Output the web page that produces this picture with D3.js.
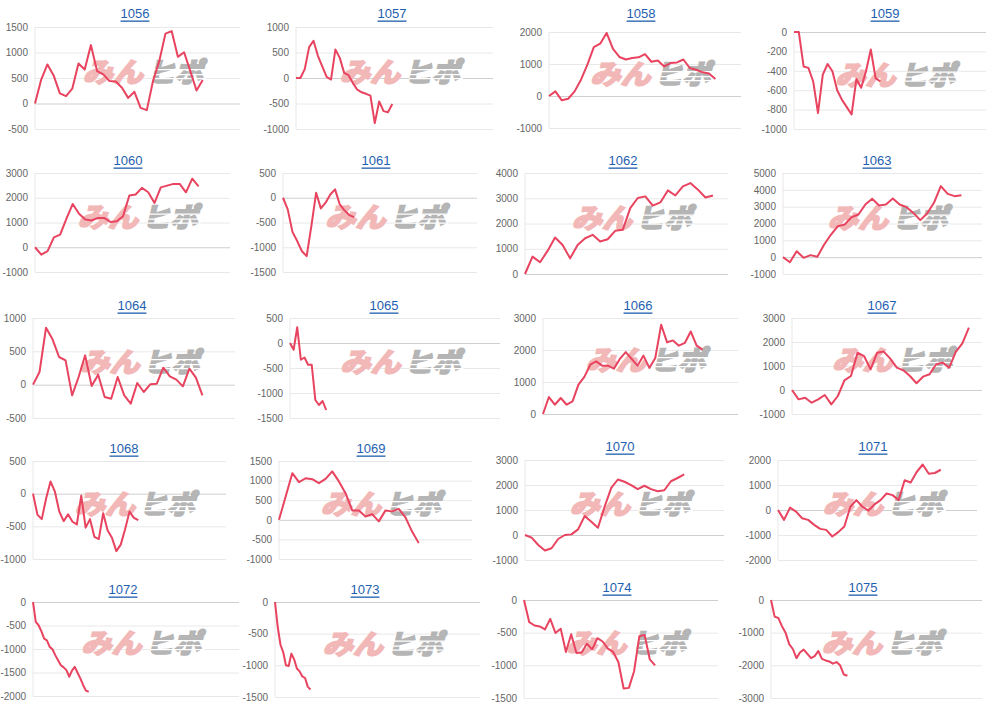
<!DOCTYPE html>
<html>
<head>
<meta charset="utf-8">
<script src="https://cdn.jsdelivr.net/npm/d3@7"></script>
<style>
  body { margin: 0; background: #fff; }
  svg { display: block; }
</style>
</head>
<body>
<svg id="chart" width="1000" height="709"></svg>
<script>
// machine numbers (panel titles)
var names = ["1056","1057","1058","1059","1060","1061","1062","1063","1064","1065",
             "1066","1067","1068","1069","1070","1071","1072","1073","1074","1075"]

// cumulative difference per game
var v1056 = [0,470,765,550,200,145,290,785,665,1145,635,570,440,430,310,110,230,-85,-130,440,830,1370,1420,915,1005,635,255,460]
var v1057 = [0,0,175,605,730,435,230,20,-30,560,395,100,55,-100,-230,-280,-310,-345,-885,-460,-650,-670,-510]
var v1058 = [0,145,-135,-85,145,510,980,1530,1635,1970,1470,1220,1140,1190,1210,1310,1070,1110,925,1030,1050,1140,875,820,740,700,530]
var v1059 = [0,0,-355,-370,-510,-835,-440,-330,-405,-600,-700,-775,-850,-485,-575,-405,-180,-475,-510]
var v1060 = [0,-300,-160,400,510,1160,1750,1350,1120,1080,1185,1185,1020,1050,1250,2090,2130,2400,2220,1790,2420,2490,2560,2560,2220,2770,2460]
var v1061 = [0,-235,-690,-875,-1080,-1180,-570,100,-215,-100,65,170,-135,-255,-350,-390]
var v1062 = [0,690,465,915,1445,1150,620,1150,1415,1550,1285,1375,1710,1750,2610,3010,3075,2705,2835,3310,3110,3470,3600,3340,3030,3110]
var v1063 = [0,-300,355,-40,120,20,750,1345,1840,1940,2375,2535,3130,3465,3070,3130,3485,3130,2970,2630,2200,2590,3230,4220,3760,3625,3680]
var v1064 = [0,190,855,680,415,365,-160,115,440,-20,150,-185,-210,115,-160,-285,25,-110,5,15,255,125,75,-25,240,105,-160]
var v1065 = [0,-135,315,-335,-290,-435,-435,-1140,-1240,-1160,-1340]
var v1066 = [0,530,290,500,290,395,920,1160,1540,1645,1510,1510,1415,1720,1935,1720,1510,1825,1440,1750,2790,2240,2300,2135,2220,2580,2135,2010]
var v1067 = [0,-390,-320,-530,-390,-210,-600,-250,400,585,1555,1415,860,1555,1600,1305,930,820,585,280,555,655,1070,1140,930,1585,1945,2600]
var v1068 = [0,-320,-390,-70,185,30,-275,-420,-315,-430,-470,-30,-520,-390,-660,-695,-300,-560,-675,-880,-780,-545,-275,-370,-405]
var v1069 = [0,595,1190,960,1060,1035,935,1045,1235,980,680,240,240,85,145,-40,240,215,280,60,-300,-595]
var v1070 = [0,-105,-400,-620,-530,-160,0,25,225,760,530,290,1130,1885,2220,2130,1995,1835,1970,1835,1750,1790,2150,2280,2425]
var v1071 = [0,-395,95,-65,-330,-395,-595,-755,-795,-1060,-885,-660,130,395,130,-25,225,395,660,595,395,1190,1100,1520,1820,1450,1480,1610]
var v1072 = [0,-425,-495,-620,-780,-815,-955,-1005,-1130,-1240,-1345,-1390,-1450,-1590,-1460,-1380,-1505,-1625,-1765,-1885,-1910]
var v1073 = [0,-395,-675,-790,-1000,-1010,-815,-905,-1050,-1095,-1175,-1200,-1340,-1380]
var v1074 = [0,-340,-390,-405,-450,-290,-505,-440,-795,-525,-810,-805,-670,-755,-585,-635,-745,-795,-950,-1355,-1345,-1090,-555,-535,-910,-1000]
var v1075 = [0,-510,-550,-800,-1000,-1350,-1500,-1780,-1600,-1520,-1650,-1780,-1720,-1560,-1800,-1850,-1880,-1950,-1900,-2000,-2280,-2320]

// y tick labels per panel
var t1056 = [-500,0,500,1000,1500]
var t1057 = [-1000,-500,0,500,1000]
var t1058 = [-1000,0,1000,2000]
var t1059 = [-1000,-800,-600,-400,-200,0]
var t1060 = [-1000,0,1000,2000,3000]
var t1061 = [-1500,-1000,-500,0,500]
var t1062 = [0,1000,2000,3000,4000]
var t1063 = [-1000,0,1000,2000,3000,4000,5000]
var t1064 = [-500,0,500,1000]
var t1065 = [-1500,-1000,-500,0,500]
var t1066 = [0,1000,2000,3000]
var t1067 = [-1000,0,1000,2000,3000]
var t1068 = [-1000,-500,0,500]
var t1069 = [-1000,-500,0,500,1000,1500]
var t1070 = [-1000,0,1000,2000,3000]
var t1071 = [-2000,-1000,0,1000,2000]
var t1072 = [-2000,-1500,-1000,-500,0]
var t1073 = [-1500,-1000,-500,0]
var t1074 = [-1500,-1000,-500,0]
var t1075 = [-3000,-2000,-1000,0]

var values = [v1056,v1057,v1058,v1059,v1060,v1061,v1062,v1063,v1064,v1065,
              v1066,v1067,v1068,v1069,v1070,v1071,v1072,v1073,v1074,v1075]
var ticks = [t1056,t1057,t1058,t1059,t1060,t1061,t1062,t1063,t1064,t1065,
             t1066,t1067,t1068,t1069,t1070,t1071,t1072,t1073,t1074,t1075]

// panel boxes: left, right, top, bottom, title x/y, number of x slots
var boxes = [
  [35,240,27,129,135,13,34],   [296,493,27,129,392,13,46],  [549,741,32,128,641,13,31],  [794,986,32,129,885,13,41],
  [35,230,173,272,128,160,32], [283,477,173,272,376,160,42],[525,728,173,274,623,160,28],[783,982,173,274,877,160,30],
  [33,235,318,418,132,305,32], [290,500,318,418,384,305,59],[543,738,318,414,638,305,34],[792,982,318,414,882,305,30],
  [33,226,461,559,124,448,45], [279,472,461,559,371,448,30],[525,724,460,560,620,446,31],[778,977,460,560,873,446,34],
  [33,239,602,696,123,589,75], [275,480,602,697,365,589,76],[524,718,600,698,617,587,38],[771,982,600,698,863,587,59]
]

var svg = d3.select("#chart")
var font = "'Liberation Sans', Arial, sans-serif"

names.forEach(function(name, i) {
  var b = boxes[i], L = b[0], R = b[1], T = b[2], B = b[3]
  var tk = ticks[i]

  var x = d3.scaleLinear().domain([0, b[6] - 1]).range([L, R])
  var y = d3.scaleLinear().domain(d3.extent(tk)).range([B, T])

  var g = svg.append("g")

  // title
  g.append("text")
    .attr("x", b[4]).attr("y", b[5])
    .attr("text-anchor", "middle")
    .attr("dominant-baseline", "central")
    .style("font-family", font).style("font-size", "13px")
    .style("fill", "#1f5fb0")
    .style("text-decoration", "underline")
    .text(name)

  // y axis with gridlines
  var ax = g.append("g")
    .attr("transform", `translate(${L},0)`)
    .call(d3.axisLeft(y).tickValues(tk).tickSize(-(R - L)).tickPadding(7).tickFormat(d => String(d)))
  ax.select(".domain").remove()
  ax.selectAll("line")
    .attr("stroke", d => d == 0 ? "#cfcfcf" : "#e8e8e8")
    .attr("stroke-width", 1)
  ax.selectAll("text")
    .style("font-family", font).style("font-size", "10px")
    .style("fill", "#666")

  g.append("line")
    .attr("x1", L).attr("x2", L).attr("y1", T).attr("y2", B)
    .attr("stroke", "#e8e8e8")

  // watermark
  var cx = (L + R) / 2 + 10, cy = (T + B) / 2 - 6
  var wm = g.append("g").attr("transform", `translate(${cx},${cy}) skewX(-14)`)
  wm.append("text")
    .attr("x", -62).attr("y", 10)
    .attr("textLength", 60).attr("lengthAdjust", "spacingAndGlyphs")
    .style("font-family", "'Noto Sans CJK JP'").style("font-weight", "bold")
    .style("font-size", "27px").style("fill", "#f2b8b8")
    .style("stroke", "#f2b8b8").style("stroke-width", 2.2)
    .text("みん")
  wm.append("text")
    .attr("x", 2).attr("y", 10)
    .attr("textLength", 56).attr("lengthAdjust", "spacingAndGlyphs")
    .style("font-family", "'Noto Sans CJK JP'").style("font-weight", "bold")
    .style("font-size", "27px").style("fill", "#b5b5b5")
    .style("stroke", "#b5b5b5").style("stroke-width", 2.2)
    .text("ヒポ")
  ;[-3, 2, 6].forEach(function(dy) {
    wm.append("rect").attr("x", 6).attr("y", dy).attr("width", 54).attr("height", 1.2).attr("fill", "#fff")
  })

  // line
  var line = d3.line().x((d, j) => x(j)).y(d => y(d))
  g.append("path")
    .datum(values[i])
    .attr("d", line)
    .attr("fill", "none")
    .attr("stroke", "#e8435f")
    .attr("stroke-width", 2)
    .attr("stroke-linejoin", "round")
})
</script>
</body>
</html>
